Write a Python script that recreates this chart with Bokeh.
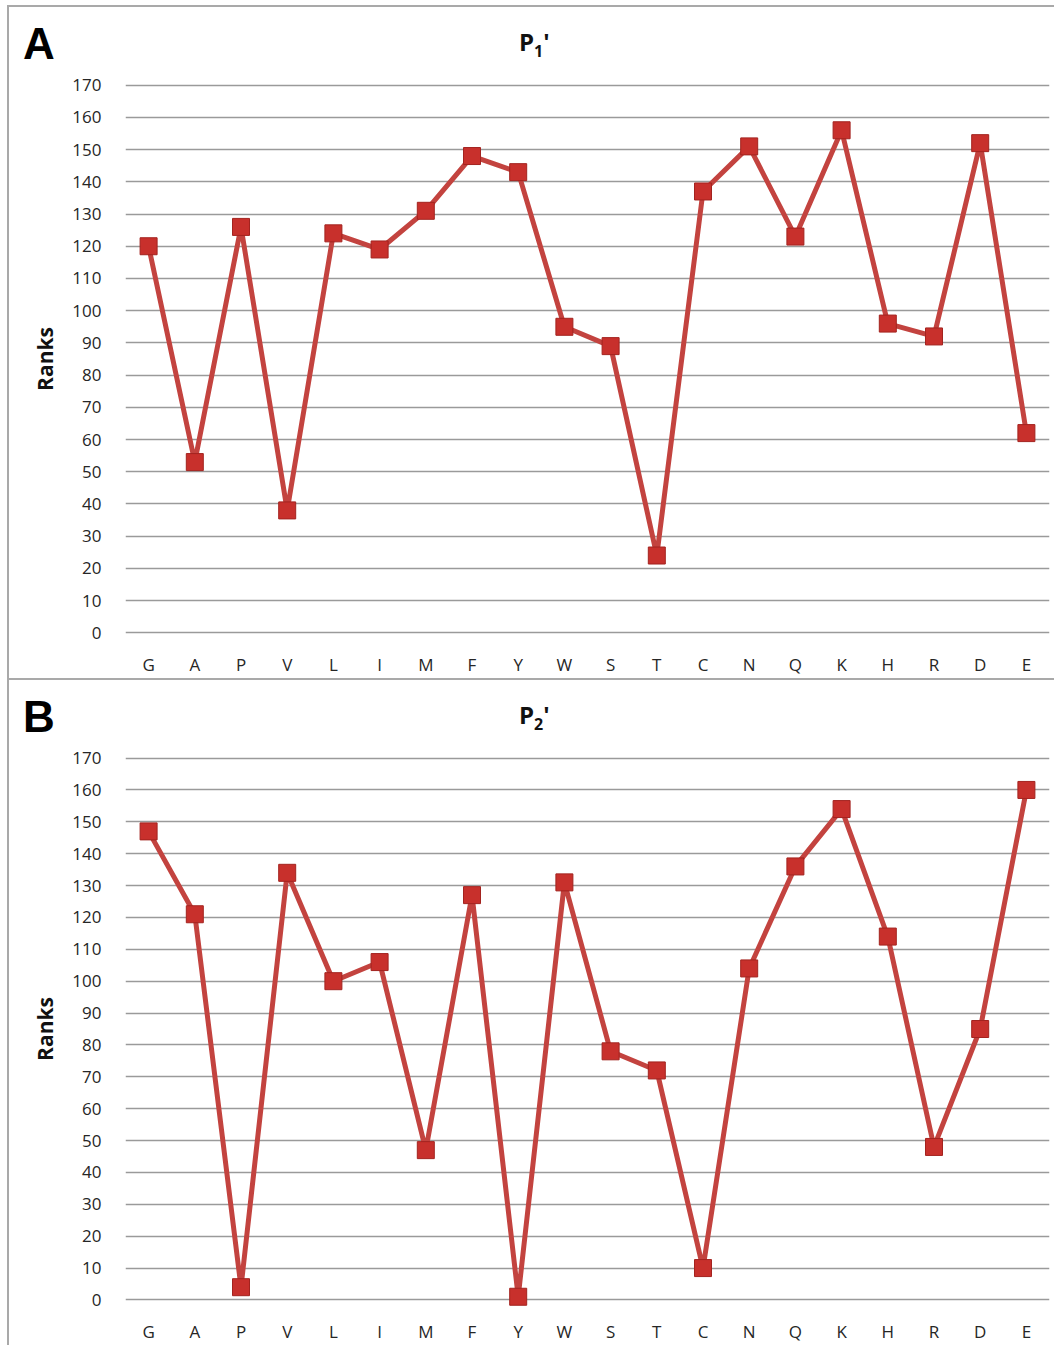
from bokeh.plotting import figure
from bokeh.layouts import column
from bokeh.models import Range1d, FactorRange, FixedTicker, Div
from bokeh.embed import file_html
from bokeh.resources import INLINE

# ---- data ----
residues = ["G", "A", "P", "V", "L", "I", "M", "F", "Y", "W",
            "S", "T", "C", "N", "Q", "K", "H", "R", "D", "E"]
p1_ranks = [120, 53, 126, 38, 124, 119, 131, 148, 143, 95,
            89, 24, 137, 151, 123, 156, 96, 92, 152, 62]
p2_ranks = [147, 121, 4, 134, 100, 106, 47, 127, 1, 131,
            78, 72, 10, 104, 136, 154, 114, 48, 85, 160]
y_ticks = list(range(0, 171, 10))
panel_letters = ["A", "B"]
panel_subscripts = ["1", "2"]
y_label = "Ranks"

LINE_COLOR = "#C3433F"
MARK_FILL = "#C8302C"
MARK_LINE = "#A3231F"
GRID_COLOR = "#9A9A9A"
BORDER = "2px solid #A9A9A9"
FONT = "Open Sans"
FIG_W = 1045
HEADER_H = 56
TOP_PAD = 12


def header(letter, sub):
    html = (
        f'<div style="position:relative;width:{FIG_W}px;height:{HEADER_H}px;">'
        f'<span style="position:absolute;left:14px;top:15px;'
        f'font-family:\'Liberation Sans\';font-weight:bold;font-size:44px;'
        f'line-height:1;color:#000;">{letter}</span>'
        f'<span style="position:absolute;left:510px;top:23px;'
        f'font-family:\'Open Sans\';font-weight:bold;font-size:24px;'
        f'line-height:1;color:#111;white-space:nowrap;">P'
        f'<span style="font-size:16px;position:relative;top:6px;">{sub}</span>'
        f"'</span></div>"
    )
    return Div(text=html, width=FIG_W, height=HEADER_H,
               styles={"margin": "0", "padding": "0"})


def make_panel(values, bottom):
    p = figure(x_range=FactorRange(*residues, range_padding=0),
               y_range=Range1d(-3, 173),
               width=FIG_W, height=TOP_PAD + 567 + bottom,
               output_backend="svg", toolbar_location=None,
               min_border_left=116, min_border_right=5,
               min_border_top=TOP_PAD, min_border_bottom=bottom)
    p.outline_line_color = None
    p.background_fill_color = "white"
    p.border_fill_color = "white"

    for ax in (p.xaxis, p.yaxis):
        ax.axis_line_color = None
        ax.major_tick_line_color = None
        ax.minor_tick_line_color = None
        ax.major_label_text_font = FONT
        ax.major_label_text_font_size = "17px"
        ax.major_label_text_color = "#262626"
    p.xaxis.major_label_standoff = 4
    p.yaxis.ticker = FixedTicker(ticks=y_ticks)
    p.yaxis.major_label_standoff = 18
    p.yaxis.axis_label = y_label
    p.yaxis.axis_label_text_font = FONT
    p.yaxis.axis_label_text_font_style = "bold"
    p.yaxis.axis_label_text_font_size = "21px"
    p.yaxis.axis_label_text_color = "#111111"
    p.yaxis.axis_label_standoff = 10

    p.xgrid.visible = False
    p.ygrid.ticker = FixedTicker(ticks=y_ticks)
    p.ygrid.grid_line_color = GRID_COLOR
    p.ygrid.grid_line_width = 1.6

    p.line(x=residues, y=values, line_color=LINE_COLOR, line_width=5)
    p.scatter(x=residues, y=values, marker="square", size=17,
              fill_color=MARK_FILL, line_color=MARK_LINE, line_width=1)
    return p


panel_a = column(header(panel_letters[0], panel_subscripts[0]),
                 make_panel(p1_ranks, 36), spacing=0,
                 styles={"border-top": BORDER, "border-left": BORDER})
panel_b = column(header(panel_letters[1], panel_subscripts[1]),
                 make_panel(p2_ranks, 30), spacing=0,
                 styles={"border-top": BORDER, "border-left": BORDER})
layout = column(panel_a, panel_b, spacing=0,
                styles={"margin-left": "7px", "margin-top": "5px"})

open("out.html", "w").write(file_html(layout, INLINE))
